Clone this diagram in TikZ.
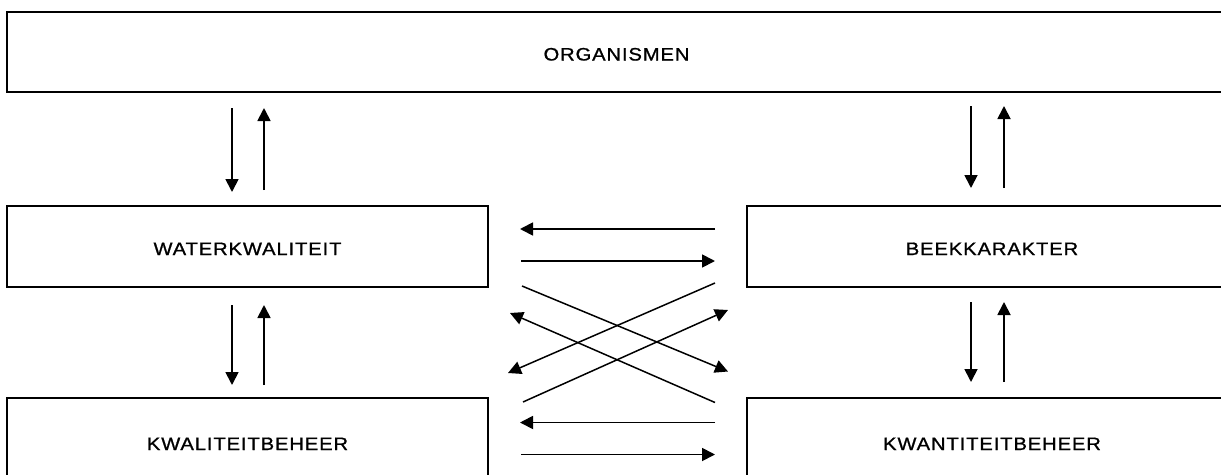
\documentclass[tikz,border=0pt]{standalone}
\usepackage{fontspec}
\newfontfamily\lblfont{Liberation Sans}[FakeStretch=1.12,LetterSpace=5,FakeBold=1]
\usetikzlibrary{arrows.meta,calc}
\begin{document}
\begin{tikzpicture}[x=1pt,y=-1pt,
  box/.style={draw,line width=2pt,rectangle,inner sep=0pt,outer sep=0pt,
    font=\lblfont\fontsize{18}{20}\selectfont,text height=17pt,text depth=0pt},
  arr/.style={line width=1.8pt,-{Triangle[length=13pt,width=13pt]}},
  darr/.style={line width=1.5pt,-{Triangle[length=13pt,width=13pt]}}]
\clip (0,0) rectangle (1221,474);
\fill[white] (0,0) rectangle (1221,474);
% boxes
\node[box,minimum width=1219pt,minimum height=80pt] (org) at (616.5,52) {ORGANISMEN};
\node[box,minimum width=481pt,minimum height=81pt] (wq) at (247.5,246.5) {WATERKWALITEIT};
\node[box,minimum width=490pt,minimum height=81pt] (bk) at (992,246.5) {BEEKKARAKTER};
\node[box,minimum width=481pt,minimum height=87pt] (kb) at (247.5,441.5) {KWALITEITBEHEER};
\node[box,minimum width=490pt,minimum height=87pt] (knb) at (992,441.5) {KWANTITEITBEHEER};
% vertical arrows, left column
\draw[arr] ($(org.south west)+(225,16)$) -- ($(wq.north west)+(225,-14)$);
\draw[arr] ($(wq.north west)+(257,-16)$) -- ($(org.south west)+(257,16)$);
\draw[arr] ($(wq.south west)+(225,18)$) -- ($(kb.north west)+(225,-13)$);
\draw[arr] ($(kb.north west)+(257,-13)$) -- ($(wq.south west)+(257,18)$);
% vertical arrows, right column
\draw[arr] ($(org.south west)+(964,14)$) -- ($(bk.north west)+(224,-18)$);
\draw[arr] ($(bk.north west)+(257,-18)$) -- ($(org.south west)+(997,14)$);
\draw[arr] ($(bk.south west)+(224,15)$) -- ($(knb.north west)+(224,-16)$);
\draw[arr] ($(knb.north west)+(257,-16)$) -- ($(bk.south west)+(257,15)$);
% horizontal arrows, top
\draw[arr] ($(bk.west)+(-32,-17.5)$) -- ($(wq.east)+(32,-17.5)$);
\draw[arr] ($(wq.east)+(33,14.5)$) -- ($(bk.west)+(-32,14.5)$);
% crossing arrows
\draw[darr] ($(wq.south east)+(34,-1)$) -- ($(knb.north west)+(-19,-26.5)$);
\draw[darr] ($(bk.south west)+(-32,-4)$) -- ($(kb.north east)+(20,-25)$);
\draw[darr] ($(knb.north west)+(-32,4.5)$) -- ($(wq.south east)+(22,26)$);
\draw[darr] ($(kb.north east)+(35,4)$) -- ($(bk.south west)+(-19,23)$);
% horizontal arrows, bottom
\draw[arr] ($(knb.north west)+(-32,24.5)$) -- ($(kb.north east)+(32,24.5)$);
\draw[arr] ($(kb.north east)+(33,56.5)$) -- ($(knb.north west)+(-32,56.5)$);
\end{tikzpicture}
\end{document}
